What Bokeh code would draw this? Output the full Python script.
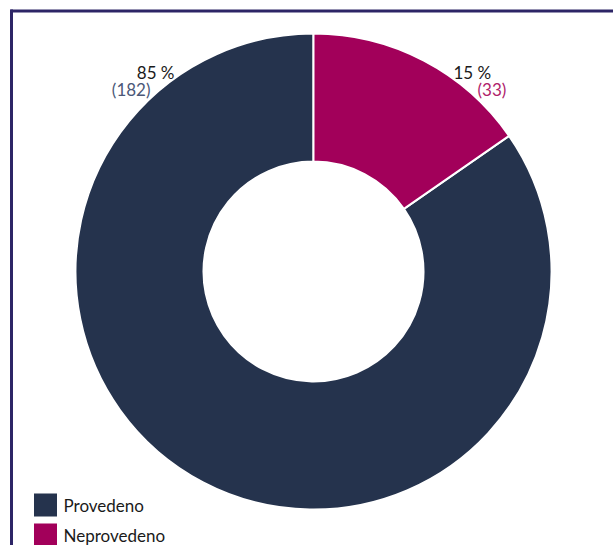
import math
from bokeh.plotting import figure
from bokeh.models import Range1d, ColumnDataSource
from bokeh.core.properties import value
from bokeh.embed import file_html
from bokeh.resources import INLINE

# ---- data ----
categories = ["Provedeno", "Neprovedeno"]
counts = [182, 33]
colors = ["#25334d", "#a2005a"]
count_colors = ["#4b5878", "#b01d6c"]

W, H = 613, 545
FONT = "Lato"
FS = "17px"

# layout
cx, cy = 313, 274
r_out, r_in = 238, 110

total = sum(counts)
fracs = [c / total for c in counts]
pcts = [f"{round(f * 100)} %" for f in fracs]
cnts = [f"({c})" for c in counts]

starts, ends = [], []
acc = 0.0
for f in fracs:
    starts.append(math.pi / 2 + acc * 2 * math.pi)
    acc += f
    ends.append(math.pi / 2 + acc * 2 * math.pi)

src = ColumnDataSource(dict(cat=categories, start=starts, end=ends, color=colors))

p = figure(width=W, height=H, x_range=Range1d(0, W), y_range=Range1d(0, H),
           output_backend="svg", toolbar_location=None, min_border=0,
           outline_line_color=None, background_fill_color="white",
           border_fill_color="white")
p.axis.visible = False
p.grid.visible = False

p.annular_wedge(x=cx, y=cy, inner_radius=r_in, outer_radius=r_out,
                start_angle="start", end_angle="end", direction="anticlock",
                fill_color="color", line_color="white", line_width=2, source=src)

# frame lines (top and left)
p.segment(x0=[10, 11], y0=[H - 10.5, H - 9], x1=[W, 11], y1=[H - 10.5, 0],
          line_color="#2d2566", line_width=3)

# labels: percent line and count line
lab_x = [174, 453]
lab_align = ["right", "left"]
pct_y = [H - 72, H - 72]
cnt_x = [150, 477]
cnt_y = [H - 89, H - 89]
p.text(x=lab_x, y=pct_y, text=pcts, text_align=lab_align, text_baseline="alphabetic",
       text_font=value(FONT), text_font_size=FS, text_color="#1a1a1a")
p.text(x=cnt_x, y=cnt_y, text=cnts, text_align=lab_align, text_baseline="alphabetic",
       text_font=value(FONT), text_font_size=FS, text_color=count_colors)

# legend (manual): swatches and labels
leg_x, leg_y0, leg_step, sw = 45, H - 504.5, 30, 23
leg_ys = [leg_y0 - i * leg_step for i in range(len(categories))]
p.rect(x=[leg_x] * len(categories), y=leg_ys, width=sw, height=sw,
       fill_color=colors, line_color=None)
p.text(x=[63] * len(categories), y=leg_ys, text=categories, text_align="left",
       text_baseline="middle", text_font=value(FONT), text_font_size=FS,
       text_color="#1a1a1a")

open("out.html", "w").write(file_html(p, INLINE))
